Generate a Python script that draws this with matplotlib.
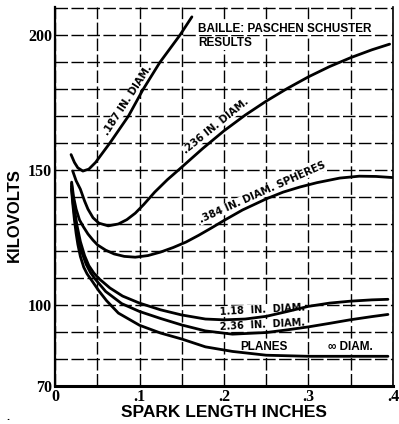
import matplotlib
matplotlib.use("Agg")
import matplotlib.pyplot as plt

# spark length (inches) vs kilovolts
x_187 = [0.019, 0.023, 0.027, 0.033, 0.040, 0.048, 0.056, 0.065, 0.076, 0.087, 0.104, 0.124, 0.148, 0.162]
kv_187 = [155.7, 152.8, 150.8, 149.6, 150.3, 152.8, 156.2, 160.0, 165.0, 170.0, 179.7, 189.8, 200.0, 206.7]

x_236 = [0.021, 0.025, 0.030, 0.035, 0.039, 0.045, 0.052, 0.063, 0.075, 0.085, 0.095, 0.105, 0.118, 0.133,
         0.148, 0.175, 0.200, 0.225, 0.250, 0.275, 0.300, 0.325, 0.350, 0.375, 0.396]
kv_236 = [149.6, 146.0, 142.9, 138.5, 135.5, 132.3, 130.3, 129.3, 130.0, 131.6, 134.0, 137.2, 141.8, 146.4,
          150.5, 158.0, 164.5, 170.3, 175.5, 180.2, 184.5, 188.3, 191.6, 194.5, 196.6]

x_384 = [0.0197, 0.022, 0.025, 0.029, 0.0335, 0.039, 0.045, 0.0505, 0.060, 0.070, 0.082, 0.095, 0.110, 0.125,
         0.140, 0.155, 0.170, 0.185, 0.200, 0.222, 0.250, 0.270, 0.290, 0.310, 0.337, 0.360, 0.380, 0.399]
kv_384 = [145.5, 140.0, 135.5, 131.5, 129.0, 126.3, 124.0, 122.2, 120.3, 118.9, 118.0, 117.7, 118.3, 119.6,
          121.3, 123.3, 125.8, 128.5, 131.3, 135.2, 139.3, 141.8, 143.7, 145.3, 147.0, 147.7, 147.6, 147.2]

x_118 = [0.0195, 0.021, 0.023, 0.026, 0.030, 0.035, 0.040, 0.046, 0.053, 0.065, 0.080, 0.100, 0.125, 0.150,
         0.178, 0.200, 0.225, 0.250, 0.275, 0.300, 0.325, 0.349, 0.375, 0.394]
kv_118 = [145.0, 140.5, 135.5, 129.5, 123.5, 118.3, 114.6, 111.8, 109.5, 106.3, 103.3, 100.7, 98.2, 96.3,
          94.8, 94.5, 94.8, 95.8, 97.6, 99.5, 100.7, 101.4, 101.9, 102.1]

x_236b = [0.0195, 0.021, 0.023, 0.025, 0.028, 0.032, 0.037, 0.042, 0.047, 0.060, 0.079, 0.100, 0.125, 0.150,
          0.178, 0.210, 0.250, 0.275, 0.300, 0.325, 0.349, 0.375, 0.394]
kv_236b = [144.0, 139.0, 133.5, 129.0, 124.0, 119.3, 115.0, 112.0, 109.8, 105.0, 100.5, 97.6, 95.0, 92.6,
           90.4, 89.2, 89.8, 90.8, 91.9, 93.2, 94.5, 95.7, 96.5]

x_planes = [0.0195, 0.021, 0.023, 0.025, 0.027, 0.030, 0.034, 0.038, 0.043, 0.052, 0.061, 0.075, 0.100, 0.125,
            0.150, 0.178, 0.210, 0.250, 0.300, 0.350, 0.394]
kv_planes = [143.0, 137.5, 131.5, 126.5, 122.5, 118.0, 114.0, 111.5, 109.3, 105.2, 101.6, 97.0, 92.5, 89.6,
             87.4, 84.5, 82.8, 81.4, 81.0, 81.0, 81.0]

x_ticks = [0, 0.1, 0.2, 0.3, 0.4]
x_labels = ["0", ".1", ".2", ".3", ".4"]
y_ticks = [70, 100, 150, 200]

fig = plt.figure(figsize=(3.99, 4.24), dpi=100)
ax = fig.add_axes([55 / 399, 1 - 386 / 424, 338 / 399, 379.4 / 424])

ink = "black"
lw = 2.0
for xs, ys in [(x_187, kv_187), (x_236, kv_236), (x_384, kv_384),
               (x_118, kv_118), (x_236b, kv_236b), (x_planes, kv_planes)]:
    ax.plot(xs, ys, color=ink, lw=lw, solid_capstyle="round", solid_joinstyle="round", zorder=3)

ax.set_xlim(0, 0.4)
ax.set_ylim(70, 210.5)

ax.set_xticks(x_ticks)
ax.set_xticklabels(x_labels)
ax.set_xticks([0.05, 0.15, 0.25, 0.35], minor=True)
ax.set_yticks(y_ticks)
ax.set_yticks([80, 90, 110, 120, 130, 140, 160, 170, 180, 190, 210], minor=True)
ax.tick_params(which="both", length=0, pad=2)
for lab in ax.get_xticklabels() + ax.get_yticklabels():
    lab.set_fontfamily("Liberation Serif")
    lab.set_fontweight("bold")
    lab.set_fontsize(11.5)

ax.grid(True, which="both", color=ink, lw=1.0, ls=(0, (9, 2.5)), zorder=1)
ax.set_axisbelow(True)

ax.spines["top"].set_visible(False)
ax.spines["left"].set_linewidth(1.6)
ax.spines["bottom"].set_linewidth(2.2)
ax.spines["right"].set_linewidth(1.2)

lab_font = dict(fontfamily="Liberation Sans", fontweight="bold", color=ink)
note_font = dict(fontfamily="DejaVu Sans", fontweight="bold", color=ink)
ax.set_xlabel("SPARK LENGTH INCHES", fontsize=12.5, labelpad=0, **lab_font)
ax.set_ylabel("KILOVOLTS", fontsize=12, **lab_font)
ax.yaxis.set_label_coords(-0.098, 0.45)

# notes on the plate; white box hides the grid, curves stay on top
box = dict(fc="white", ec="none", pad=0.3)
ax.text(0.169, 202.3, "BAILLE: PASCHEN SCHUSTER", fontsize=8.5, ha="left", va="center",
        zorder=2, bbox=box, **lab_font)
ax.text(0.169, 197.0, "RESULTS", fontsize=8.5, ha="left", va="center",
        zorder=2, bbox=box, **lab_font)
ax.text(0.0855, 175.7, ".187 IN. DIAM.", fontsize=7.3, rotation=57, ha="center", va="center",
        zorder=2, bbox=box, **note_font)
ax.text(0.19, 166.3, ".236 IN. DIAM.", fontsize=7.3, rotation=39, ha="center", va="center",
        zorder=2, bbox=box, **note_font)
ax.text(0.245, 141.6, ".384 IN. DIAM. SPHERES", fontsize=7.3, rotation=24, ha="center", va="center",
        zorder=2, bbox=box, **note_font)
ax.text(0.245, 98.3, "1.18  IN.  DIAM.", fontsize=7.0, rotation=3, ha="center", va="center",
        zorder=2, bbox=box, **note_font)
ax.text(0.245, 92.7, "2.36  IN.  DIAM.", fontsize=7.0, rotation=3, ha="center", va="center",
        zorder=2, bbox=box, **note_font)
ax.text(0.247, 84.3, "PLANES", fontsize=8.5, ha="center", va="center",
        zorder=2, bbox=box, **lab_font)
ax.text(0.35, 84.3, "\u221e DIAM.", fontsize=8.5, ha="center", va="center",
        zorder=2, bbox=box, **lab_font)

fig.text(8 / 399, 1 - 417 / 424, ".", fontsize=8, ha="center", va="center", **lab_font)

fig.savefig("out.png", dpi=100, facecolor="white")
